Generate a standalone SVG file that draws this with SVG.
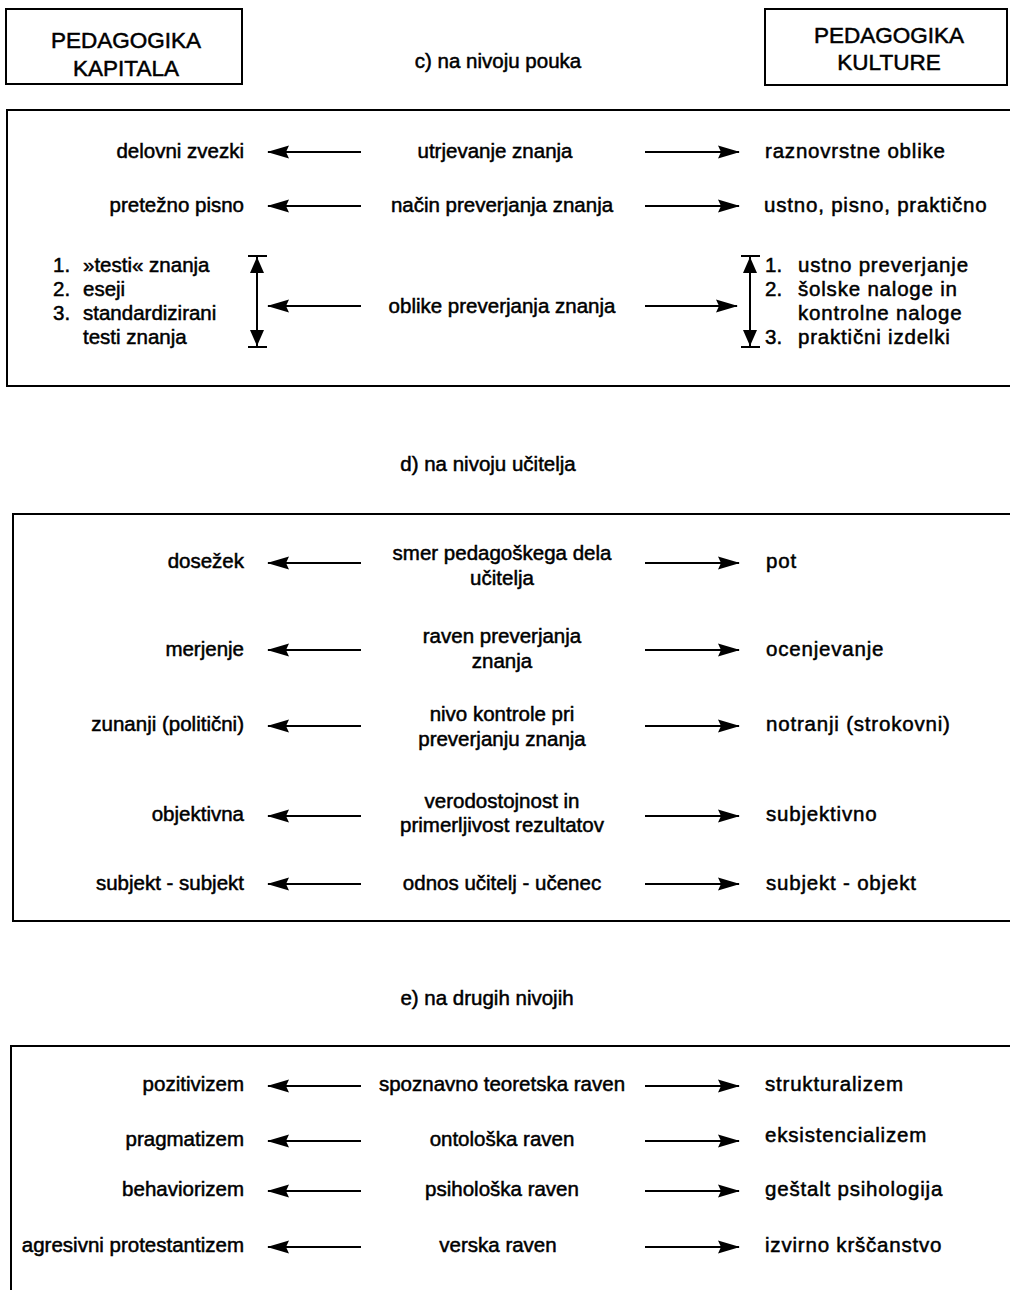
<svg xmlns="http://www.w3.org/2000/svg" width="1010" height="1290" viewBox="0 0 1010 1290">
  <defs>
    <style>
      text { font-family: "Liberation Sans", Arial, sans-serif; font-size: 20.5px; fill: #000; stroke: #000; stroke-width: 0.5px; }
      .hd { font-size: 22.5px; text-anchor: middle; }
      .l { text-anchor: end; }
      .c { text-anchor: middle; }
      .r { letter-spacing: 0.8px; }
      .frame { fill: none; stroke: #000; stroke-width: 2; }
      .arr { stroke: #000; stroke-width: 2; fill: none; }
      .head { fill: #000; stroke: none; }
    </style>
    <!-- filled head for the horizontal arrows -->
    <marker id="ah" viewBox="0 0 22 14" refX="21" refY="7" markerWidth="22" markerHeight="14" markerUnits="userSpaceOnUse" orient="auto">
      <path class="head" d="M0,0.5 L22,7 L0,13.5 L3,7 Z"/>
    </marker>
    <!-- larger head for the span brackets -->
    <marker id="vh" viewBox="0 0 16 14" refX="16" refY="7" markerWidth="16" markerHeight="14" markerUnits="userSpaceOnUse" orient="auto-start-reverse">
      <path class="head" d="M0,0 L16,7 L0,14 Z"/>
    </marker>
  </defs>

  <!-- header boxes -->
  <g id="pedagogika-kapitala">
    <rect class="frame" x="6" y="9" width="236" height="75"/>
    <text class="hd" x="126" y="48">PEDAGOGIKA</text>
    <text class="hd" x="126" y="76">KAPITALA</text>
  </g>
  <g id="pedagogika-kulture">
    <rect class="frame" x="765" y="9" width="242" height="76"/>
    <text class="hd" x="889" y="43">PEDAGOGIKA</text>
    <text class="hd" x="889" y="70">KULTURE</text>
  </g>

  <!-- section titles -->
  <g id="titles">
    <text class="c" x="498" y="68">c) na nivoju pouka</text>
    <text class="c" x="488" y="471">d) na nivoju učitelja</text>
    <text class="c" x="487" y="1005">e) na drugih nivojih</text>
  </g>

  <!-- section frames (open on the right) -->
  <g id="frames">
    <path class="frame" d="M1012,110 H7 V386 H1012"/>
    <path class="frame" d="M1012,514 H13 V921 H1012"/>
    <path class="frame" d="M1012,1046 H11 V1292"/>
  </g>

  <!-- section c -->
  <g id="c-utrjevanje">
    <text class="l" x="244" y="158">delovni zvezki</text>
    <text class="c" x="495" y="158">utrjevanje znanja</text>
    <text class="r" x="765" y="158">raznovrstne oblike</text>
  </g>
  <g id="c-nacin">
    <text class="l" x="244" y="212">pretežno pisno</text>
    <text class="c" x="502" y="212">način preverjanja znanja</text>
    <text class="r" x="764" y="212">ustno, pisno, praktično</text>
  </g>
  <g id="c-oblike">
    <text x="53" y="272">1.</text><text x="83" y="272">»testi« znanja</text>
    <text x="53" y="296">2.</text><text x="83" y="296">eseji</text>
    <text x="53" y="320">3.</text><text x="83" y="320">standardizirani</text>
    <text x="83" y="344">testi znanja</text>
    <text class="c" x="502" y="313">oblike preverjanja znanja</text>
    <text x="765" y="272">1.</text><text class="r" x="798" y="272">ustno preverjanje</text>
    <text x="765" y="296">2.</text><text class="r" x="798" y="296">šolske naloge in</text>
    <text class="r" x="798" y="320">kontrolne naloge</text>
    <text x="765" y="344">3.</text><text class="r" x="798" y="344">praktični izdelki</text>
  </g>

  <!-- section d -->
  <g id="d-smer">
    <text class="l" x="244" y="568">dosežek</text>
    <text class="c" x="502" y="560">smer pedagoškega dela</text>
    <text class="c" x="502" y="585">učitelja</text>
    <text class="r" x="766" y="568">pot</text>
  </g>
  <g id="d-raven">
    <text class="l" x="244" y="656">merjenje</text>
    <text class="c" x="502" y="643">raven preverjanja</text>
    <text class="c" x="502" y="668">znanja</text>
    <text class="r" x="766" y="656">ocenjevanje</text>
  </g>
  <g id="d-nivo">
    <text class="l" x="244" y="731">zunanji (politični)</text>
    <text class="c" x="502" y="721">nivo kontrole pri</text>
    <text class="c" x="502" y="746">preverjanju znanja</text>
    <text class="r" x="766" y="731">notranji (strokovni)</text>
  </g>
  <g id="d-verodostojnost">
    <text class="l" x="244" y="821">objektivna</text>
    <text class="c" x="502" y="808">verodostojnost in</text>
    <text class="c" x="502" y="832">primerljivost rezultatov</text>
    <text class="r" x="766" y="821">subjektivno</text>
  </g>
  <g id="d-odnos">
    <text class="l" x="244" y="890">subjekt - subjekt</text>
    <text class="c" x="502" y="890">odnos učitelj - učenec</text>
    <text class="r" x="766" y="890">subjekt - objekt</text>
  </g>

  <!-- section e -->
  <g id="e-spoznavno">
    <text class="l" x="244" y="1091">pozitivizem</text>
    <text class="c" x="502" y="1091">spoznavno teoretska raven</text>
    <text class="r" x="765" y="1091">strukturalizem</text>
  </g>
  <g id="e-ontoloska">
    <text class="l" x="244" y="1146">pragmatizem</text>
    <text class="c" x="502" y="1146">ontološka raven</text>
    <text class="r" x="765" y="1142">eksistencializem</text>
  </g>
  <g id="e-psiholoska">
    <text class="l" x="244" y="1196">behaviorizem</text>
    <text class="c" x="502" y="1196">psihološka raven</text>
    <text class="r" x="765" y="1196">geštalt psihologija</text>
  </g>
  <g id="e-verska">
    <text class="l" x="244" y="1252">agresivni protestantizem</text>
    <text class="c" x="498" y="1252">verska raven</text>
    <text class="r" x="765" y="1252">izvirno krščanstvo</text>
  </g>

  <!-- connectors -->
  <g id="connectors">
    <!-- left arrows -->
    <path class="arr" marker-end="url(#ah)" d="M361,152 H268"/>
    <path class="arr" marker-end="url(#ah)" d="M361,206 H268"/>
    <path class="arr" marker-end="url(#ah)" d="M361,306 H268"/>
    <path class="arr" marker-end="url(#ah)" d="M361,563 H268"/>
    <path class="arr" marker-end="url(#ah)" d="M361,650 H268"/>
    <path class="arr" marker-end="url(#ah)" d="M361,726 H268"/>
    <path class="arr" marker-end="url(#ah)" d="M361,816 H268"/>
    <path class="arr" marker-end="url(#ah)" d="M361,884 H268"/>
    <path class="arr" marker-end="url(#ah)" d="M361,1086 H268"/>
    <path class="arr" marker-end="url(#ah)" d="M361,1141 H268"/>
    <path class="arr" marker-end="url(#ah)" d="M361,1191 H268"/>
    <path class="arr" marker-end="url(#ah)" d="M361,1247 H268"/>
    <!-- right arrows -->
    <path class="arr" marker-end="url(#ah)" d="M645,152 H739"/>
    <path class="arr" marker-end="url(#ah)" d="M645,206 H739"/>
    <path class="arr" marker-end="url(#ah)" d="M645,306 H737"/>
    <path class="arr" marker-end="url(#ah)" d="M645,563 H739"/>
    <path class="arr" marker-end="url(#ah)" d="M645,650 H739"/>
    <path class="arr" marker-end="url(#ah)" d="M645,726 H739"/>
    <path class="arr" marker-end="url(#ah)" d="M645,816 H739"/>
    <path class="arr" marker-end="url(#ah)" d="M645,884 H739"/>
    <path class="arr" marker-end="url(#ah)" d="M645,1086 H739"/>
    <path class="arr" marker-end="url(#ah)" d="M645,1141 H739"/>
    <path class="arr" marker-end="url(#ah)" d="M645,1191 H739"/>
    <path class="arr" marker-end="url(#ah)" d="M645,1247 H739"/>
    <!-- span brackets -->
    <path class="arr" marker-start="url(#vh)" marker-end="url(#vh)" d="M257,257 V346"/>
    <path class="arr" d="M248,256 H267 M248,347 H267"/>
    <path class="arr" marker-start="url(#vh)" marker-end="url(#vh)" d="M750,257 V346"/>
    <path class="arr" d="M741,256 H760 M741,347 H760"/>
  </g>
</svg>
